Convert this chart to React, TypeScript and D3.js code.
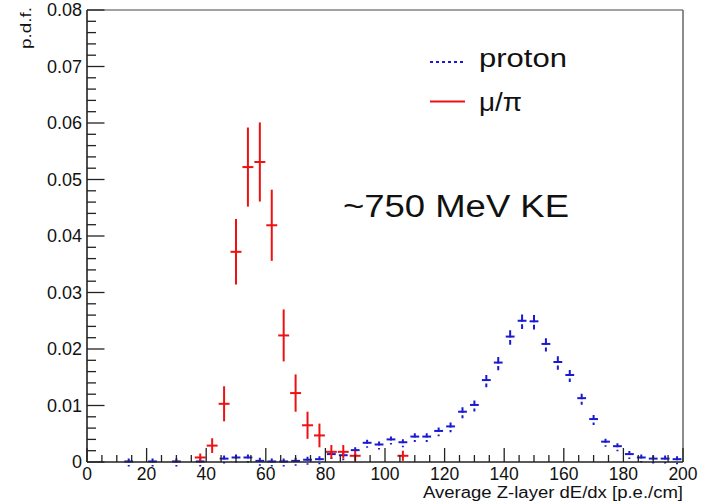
import React from "react";
import * as d3 from "d3";

// Bin centers (bin width 4)
const protonX = [14, 22, 30, 38, 46, 50, 54, 58, 62, 66, 70, 74, 78, 82, 86, 90, 94, 98, 102, 106, 110, 114, 118, 122, 126, 130, 134, 138, 142, 146, 150, 154, 158, 162, 166, 170, 174, 178, 182, 186, 190, 194, 198];
const protonY = [0.0001, 0.0001, 0.0001, 0.0001, 0.0006, 0.0008, 0.0008, 0.0002, 0.0001, 0.0001, 0.0002, 0.0004, 0.0005, 0.0014, 0.0012, 0.0021, 0.0034, 0.0031, 0.004, 0.0035, 0.0045, 0.0045, 0.0055, 0.0063, 0.0089, 0.0101, 0.0145, 0.0176, 0.0222, 0.025, 0.0249, 0.0209, 0.0177, 0.0154, 0.0113, 0.0076, 0.0036, 0.0028, 0.0014, 0.0008, 0.0006, 0.0006, 0.0005];
const protonErr = [0.0001, 0.0001, 0.0001, 0.0001, 0.0002, 0.0002, 0.0002, 0.0001, 0.0001, 0.0001, 0.0001, 0.0002, 0.0002, 0.0003, 0.0003, 0.0004, 0.0005, 0.0005, 0.0005, 0.0005, 0.0006, 0.0006, 0.0006, 0.0007, 0.0008, 0.0008, 0.0009, 0.001, 0.0011, 0.0011, 0.0011, 0.001, 0.001, 0.0009, 0.0008, 0.0007, 0.0005, 0.0004, 0.0003, 0.0002, 0.0002, 0.0002, 0.0002];

const muX = [38, 42, 46, 50, 54, 58, 62, 66, 70, 74, 78, 82, 86, 90, 106];
const muY = [0.0008, 0.0029, 0.0103, 0.0372, 0.0522, 0.0531, 0.0419, 0.0224, 0.0122, 0.0065, 0.0047, 0.0018, 0.0018, 0.0011, 0.0011];
const muErr = [0.0007, 0.0013, 0.0031, 0.0058, 0.007, 0.007, 0.0063, 0.0046, 0.0033, 0.0024, 0.0021, 0.0012, 0.0012, 0.0009, 0.0009];

const xMajor = [0, 20, 40, 60, 80, 100, 120, 140, 160, 180, 200];
const yMajor = [0, 0.01, 0.02, 0.03, 0.04, 0.05, 0.06, 0.07, 0.08];
const yLabels = ["0", "0.01", "0.02", "0.03", "0.04", "0.05", "0.06", "0.07", "0.08"];

const BIN_W = 4;
const FONT = "'Liberation Sans', Arial, sans-serif";
const RED = "#ee1111";
const BLUE = "#1a1ad2";

export default function App() {
  const L = 87, R = 683, T = 10, B = 462;
  const x = d3.scaleLinear().domain([0, 200]).range([L, R]);
  const y = d3.scaleLinear().domain([0, 0.08]).range([B, T]);

  const xMinor = d3.range(0, 201, 5).filter((v) => v % 20 !== 0);
  const yMinor = d3.range(0, 41).map((i) => i * 0.002).filter((_, i) => i % 5 !== 0);

  return (
    <svg width={710} height={504} style={{ position: "absolute", left: 0, top: 0, background: "#fff" }} fontFamily={FONT}>
      <rect x={0} y={0} width={710} height={504} fill="#fff" />
      {/* frame */}
      <line x1={L} y1={T} x2={R} y2={T} stroke="#444" strokeWidth={1.2} />
      <line x1={R} y1={T} x2={R} y2={B} stroke="#666" strokeWidth={1.5} />

      {/* proton points */}
      {protonX.map((cx, i) => {
        const px = x(cx);
        const py = y(protonY[i]);
        const e = Math.max(y(protonY[i] - protonErr[i]) - py, 3);
        const hw = (x(BIN_W) - x(0)) * 0.37;
        return (
          <g key={"p" + i}>
            <line x1={px - hw} x2={px + hw} y1={py} y2={py} stroke={BLUE} strokeWidth={2} />
            <line x1={px} x2={px} y1={py - e} y2={py + e + 2} stroke={BLUE} strokeWidth={2} strokeDasharray={`${e + 1} 2.5`} />
          </g>
        );
      })}

      {/* mu/pi points */}
      {muX.map((cx, i) => {
        const px = x(cx);
        const py = y(muY[i]);
        const hw = (x(BIN_W) - x(0)) / 2 - 0.5;
        return (
          <g key={"m" + i}>
            <line x1={px - hw} x2={px + hw} y1={py} y2={py} stroke={RED} strokeWidth={2} />
            <line x1={px} x2={px} y1={y(muY[i] + muErr[i])} y2={Math.min(y(muY[i] - muErr[i]), B)} stroke={RED} strokeWidth={2} />
          </g>
        );
      })}

      {/* axes */}
      <line x1={L} y1={T} x2={L} y2={B} stroke="#222" strokeWidth={1.6} />
      <line x1={L} y1={B} x2={R} y2={B} stroke="#222" strokeWidth={1.6} />

      {yMajor.map((v, i) => (
        <g key={"ym" + i}>
          <line x1={L} x2={L + 17.5} y1={y(v)} y2={y(v)} stroke="#222" strokeWidth={1.3} />
          <text x={82} y={y(v) + 6} textAnchor="end" fontSize={18} fill="#111">{yLabels[i]}</text>
        </g>
      ))}
      {yMinor.map((v, i) => (
        <line key={"yn" + i} x1={L} x2={L + 9} y1={y(v)} y2={y(v)} stroke="#222" strokeWidth={1.3} />
      ))}
      {xMajor.map((v, i) => (
        <g key={"xm" + i}>
          <line x1={x(v)} x2={x(v)} y1={B} y2={B - 14} stroke="#222" strokeWidth={1.3} />
          <text x={x(v)} y={480} textAnchor="middle" fontSize={17.5} fill="#111">{v}</text>
        </g>
      ))}
      {xMinor.map((v, i) => (
        <line key={"xn" + i} x1={x(v)} x2={x(v)} y1={B} y2={B - 7} stroke="#222" strokeWidth={1.3} />
      ))}

      {/* axis titles */}
      <text x={R} y={498} textAnchor="end" fontSize={16} fill="#111" textLength={260} lengthAdjust="spacingAndGlyphs">Average Z-layer dE/dx [p.e./cm]</text>
      <text transform="translate(31,7) rotate(-90)" textAnchor="end" fontSize={15} fill="#111" textLength={42} lengthAdjust="spacingAndGlyphs">p.d.f.</text>

      {/* legend */}
      <line x1={430} x2={465} y1={62} y2={62} stroke={BLUE} strokeWidth={2} strokeDasharray="3 3" />
      <text x={479} y={67} fontSize={26} fill="#111" textLength={88} lengthAdjust="spacingAndGlyphs">proton</text>
      <line x1={430} x2={465} y1={101.5} y2={101.5} stroke={RED} strokeWidth={2} />
      <text x={479} y={111} fontSize={26} fill="#111" textLength={43} lengthAdjust="spacingAndGlyphs">μ/π</text>

      {/* annotation */}
      <text x={343} y={217} fontSize={31} fill="#111" textLength={226} lengthAdjust="spacingAndGlyphs">~750 MeV KE</text>
    </svg>
  );
}
